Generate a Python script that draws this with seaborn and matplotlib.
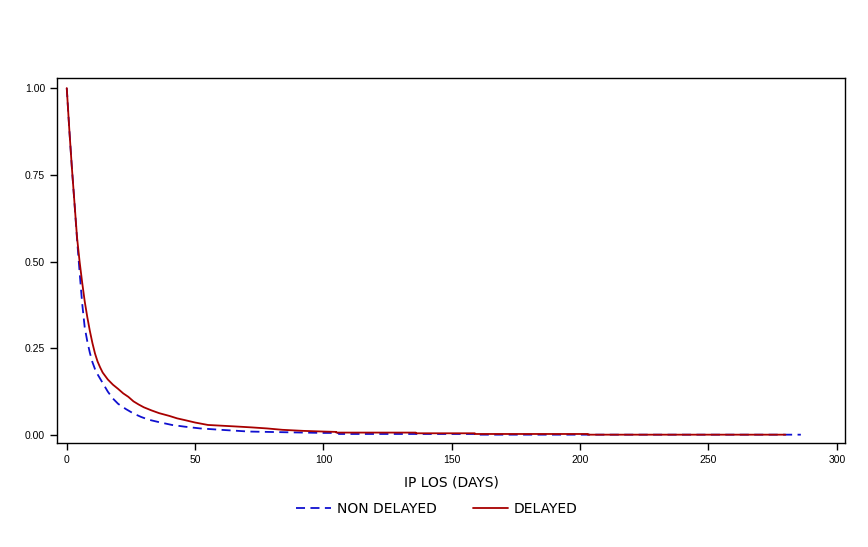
import matplotlib
matplotlib.use("Agg")
import matplotlib.pyplot as plt
import seaborn as sns
import pandas as pd
from matplotlib.lines import Line2D

# Data (Kaplan-Meier style survival curves)
delayed_days = [0, 1, 2, 3, 4, 5, 6, 7, 8, 9, 10, 11, 12, 13, 14, 16, 18, 20, 22, 24,
                26, 28, 30, 33, 36, 40, 43, 46, 50, 55, 60, 65, 72, 78, 84, 92, 100,
                105, 105, 136, 136, 159, 159, 203, 203, 280]
delayed_surv = [1.0, 0.88, 0.77, 0.67, 0.57, 0.50, 0.44, 0.385, 0.34, 0.30, 0.265, 0.235,
                0.212, 0.195, 0.18, 0.16, 0.145, 0.133, 0.12, 0.11, 0.097, 0.088, 0.08,
                0.071, 0.063, 0.055, 0.048, 0.043, 0.036, 0.029, 0.027, 0.025, 0.022,
                0.019, 0.015, 0.012, 0.010, 0.009, 0.007, 0.007, 0.005, 0.005, 0.003,
                0.003, 0.001, 0.001]

nondelayed_days = [0, 1, 2, 3, 4, 5, 6, 7, 8, 9, 10, 11, 12, 14, 16, 18, 20, 23, 26, 29,
                   32, 36, 41, 46, 52, 60, 71, 85, 100, 106, 106, 160, 160, 286]
nondelayed_surv = [1.0, 0.88, 0.77, 0.67, 0.565, 0.47, 0.38, 0.31, 0.27, 0.237, 0.21,
                   0.19, 0.175, 0.15, 0.125, 0.105, 0.09, 0.075, 0.062, 0.052, 0.044,
                   0.037, 0.029, 0.024, 0.019, 0.015, 0.010, 0.008, 0.006, 0.006, 0.003,
                   0.003, 0.001, 0.001]

groups = ["NON DELAYED", "DELAYED"]
x_ticks = [0, 50, 100, 150, 200, 250, 300]
y_ticks = [0.0, 0.25, 0.5, 0.75, 1.0]
y_ticklabels = ["0.00", "0.25", "0.50", "0.75", "1.00"]

df = pd.concat([
    pd.DataFrame({"days": nondelayed_days, "surv": nondelayed_surv, "group": groups[0]}),
    pd.DataFrame({"days": delayed_days, "surv": delayed_surv, "group": groups[1]}),
], ignore_index=True)

sns.set_style("white")
plt.rcParams["font.family"] = ["DejaVu Sans"]
plt.rcParams["text.color"] = "black"
plt.rcParams["axes.labelcolor"] = "black"
plt.rcParams["xtick.color"] = "black"
plt.rcParams["ytick.color"] = "black"

fig = plt.figure(figsize=(8.68, 5.47), dpi=100)
ax = fig.add_axes([57 / 868, 1 - 443 / 547, (845 - 57) / 868, (443 - 78) / 547])

palette = {groups[0]: "#1010D0", groups[1]: "#A80000"}
sns.lineplot(data=df, x="days", y="surv", hue="group", style="group",
             palette=palette, dashes={groups[0]: (5, 3), groups[1]: ""},
             linewidth=1.3, ax=ax, legend=False, estimator=None, sort=False)

ax.set_xlim(-3.8, 303.2)
ax.set_ylim(-0.023, 1.029)
ax.set_xticks(x_ticks)
ax.set_yticks(y_ticks)
ax.set_yticklabels(y_ticklabels)
ax.tick_params(axis="both", direction="out", length=5, width=1, colors="black",
               labelsize=7.5, bottom=True, left=True)
for lab in ax.get_xticklabels() + ax.get_yticklabels():
    lab.set_family("Liberation Sans")
for sp in ax.spines.values():
    sp.set_color("black")
    sp.set_linewidth(1)

ax.set_xlabel("IP LOS (DAYS)", fontsize=10, labelpad=8, color="black")
ax.set_ylabel("")

handles = [Line2D([], [], color=palette[groups[0]], linestyle=(0, (5, 3)), linewidth=1.3),
           Line2D([], [], color=palette[groups[1]], linestyle="-", linewidth=1.3)]
fig.legend(handles, groups, loc="center", bbox_to_anchor=(437 / 868, 1 - 509 / 547),
           ncol=2, frameon=False, fontsize=10, handlelength=2.5, columnspacing=2.6,
           handletextpad=0.45, labelcolor="black")

fig.savefig("out.png", dpi=100)
